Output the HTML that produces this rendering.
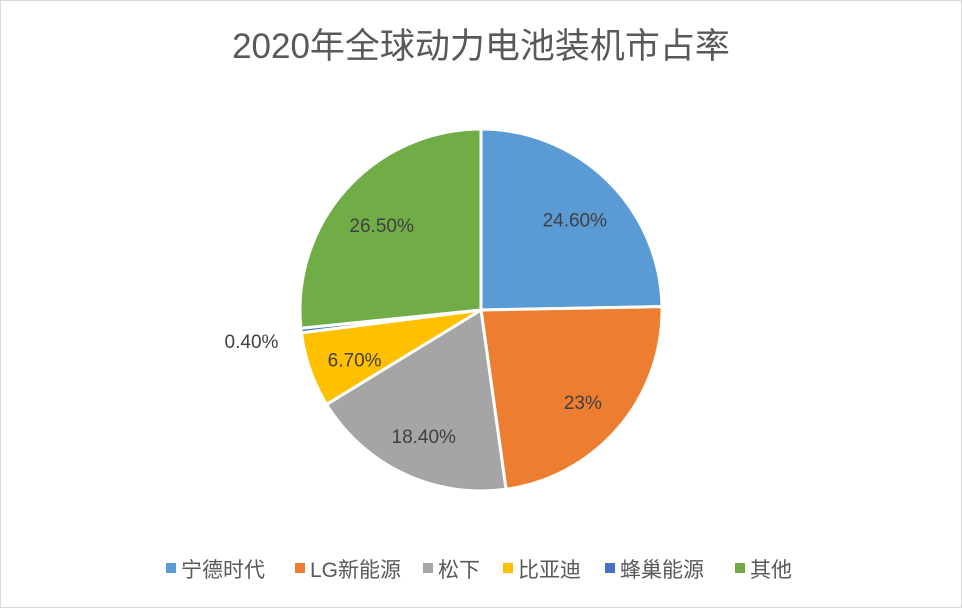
<!DOCTYPE html>
<html><head><meta charset="utf-8"><style>
body{margin:0;background:#fff}
svg{display:block;font-family:"Liberation Sans","Noto Sans CJK SC",sans-serif}
</style></head><body>
<svg id="c" width="962" height="608">
<rect x="0.5" y="0.5" width="961" height="607" fill="#fff" stroke="#d9d9d9"/>
<text x="481" y="58" text-anchor="middle" font-size="35" fill="#595959">2020年全球动力电池装机市占率</text>
<g id="slices"></g><g id="labels"></g><g id="legend"></g>
</svg>
<script>
const categories=["宁德时代","LG新能源","松下","比亚迪","蜂巢能源","其他"];
const values=[24.6,23,18.4,6.7,0.4,26.5];
const valueLabels=["24.60%","23%","18.40%","6.70%","0.40%","26.50%"];
const colors=["#5b9bd5","#ed7d31","#a5a5a5","#ffc000","#4472c4","#70ad47"];
const ns="http://www.w3.org/2000/svg";
const cx=481,cy=310,r=181;
const total=values.reduce((a,b)=>a+b,0);
const sg=document.getElementById('slices'),lg=document.getElementById('labels'),leg=document.getElementById('legend');
function pt(a,rr){return [cx+rr*Math.sin(a),cy-rr*Math.cos(a)];}
let a0=0;
values.forEach((v,i)=>{
  const a1=a0+v/total*2*Math.PI;
  const p0=pt(a0,r),p1=pt(a1,r);
  const large=(a1-a0)>Math.PI?1:0;
  const p=document.createElementNS(ns,'path');
  p.setAttribute('d',`M${cx},${cy}L${p0[0]},${p0[1]}A${r},${r} 0 ${large} 1 ${p1[0]},${p1[1]}Z`);
  p.setAttribute('fill',colors[i]);p.setAttribute('stroke','#fff');p.setAttribute('stroke-width','3');
  
  
  sg.appendChild(p);
  const m=(a0+a1)/2;
  const small=v/total<0.02;
  const lp=small?pt(m,r+50):pt(m,r*0.74);
  const t=document.createElementNS(ns,'text');
  t.setAttribute('x',lp[0]);t.setAttribute('y',lp[1]+12);
  t.setAttribute('text-anchor','middle');t.setAttribute('font-size','19');t.setAttribute('fill','#404040');
  t.textContent=valueLabels[i];
  
  
  lg.appendChild(t);
  a0=a1;
});
const legX=[166,295,423,503,605,735];
categories.forEach((c,i)=>{
  const g=document.createElementNS(ns,'g');
  
  
  const s=document.createElementNS(ns,'rect');
  s.setAttribute('x',legX[i]);s.setAttribute('y',563);s.setAttribute('width',10);s.setAttribute('height',10);s.setAttribute('fill',colors[i]);
  const t=document.createElementNS(ns,'text');
  t.setAttribute('x',legX[i]+15);t.setAttribute('y',577);t.setAttribute('font-size','21');t.setAttribute('fill','#595959');
  t.textContent=c;
  g.appendChild(s);g.appendChild(t);leg.appendChild(g);
});
</script>
</body></html>
